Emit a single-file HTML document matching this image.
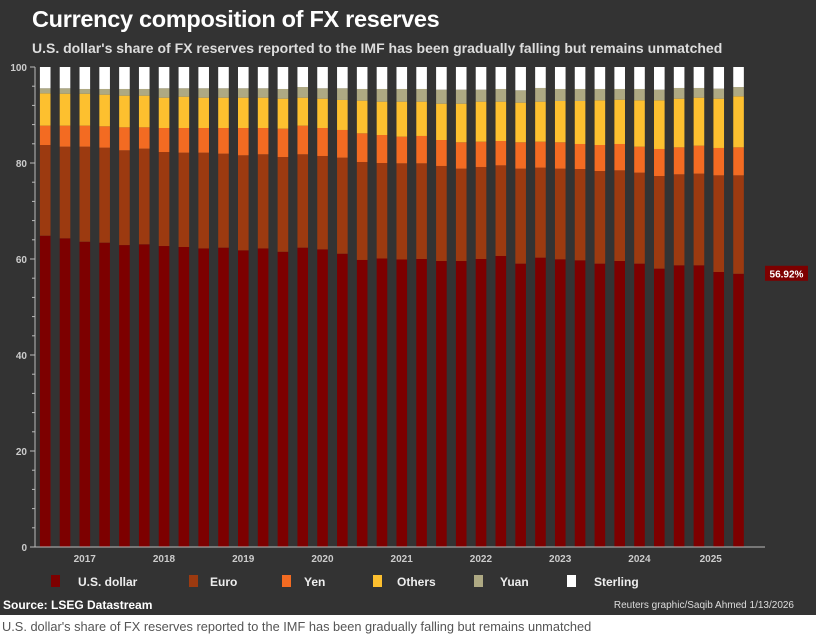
<!DOCTYPE html>
<html><head><meta charset="utf-8"><style>
body{margin:0;width:816px;height:641px;overflow:hidden;background:#fff;font-family:"Liberation Sans",sans-serif}
#card{position:absolute;left:0;top:0;width:816px;height:615px;background:#333}
#title{position:absolute;left:32px;top:6px;color:#fff;font-size:23.5px;font-weight:bold;letter-spacing:-0.3px}
#sub{position:absolute;left:32px;top:40px;color:#ddd;font-size:14px;font-weight:bold}
#caption{position:absolute;left:2px;top:619px;color:#555;font-size:12.8px}
svg{position:absolute;left:0;top:0}
</style></head><body>
<div id="card"></div>
<div id="title">Currency composition of FX reserves</div>
<div id="sub">U.S. dollar's share of FX reserves reported to the IMF has been gradually falling but remains unmatched</div>
<svg id="chart" width="816" height="615"></svg>
<div id="caption">U.S. dollar's share of FX reserves reported to the IMF has been gradually falling but remains unmatched</div>
<script>
const years=["2017","2018","2019","2020","2021","2022","2023","2024","2025"];
const yTicks=[0,20,40,60,80,100];
const seriesNames=["U.S. dollar","Euro","Yen","Others","Yuan","Sterling"];
const usd=[64.85,64.3,63.6,63.4,62.9,63.06,62.7,62.5,62.2,62.36,61.8,62.2,61.5,62.36,62.0,61.1,59.8,60.1,59.9,60.0,59.58,59.58,60.0,60.63,59.03,60.28,59.93,59.72,59.03,59.58,59.03,57.99,58.68,58.68,57.29,56.92];
const euro=[18.9,19.1,19.8,19.79,19.74,19.93,19.59,19.65,19.95,19.58,19.8,19.61,19.75,19.45,19.46,20.01,20.41,19.9,20.03,19.93,19.8,19.24,19.17,18.88,19.79,18.75,18.89,19.03,19.3,18.89,18.96,19.3,18.96,19.1,20.14,20.51];
const yen=[4.03,4.38,4.38,4.45,4.79,4.44,5.0,5.14,5.14,5.35,5.69,5.48,5.9,5.97,5.83,5.77,5.97,5.83,5.56,5.7,5.41,5.49,5.27,5.07,5.49,5.41,5.49,5.21,5.42,5.49,5.41,5.63,5.62,5.83,5.7,5.83];
const others=[6.73,6.66,6.66,6.6,6.6,6.6,6.32,6.53,6.32,6.32,6.32,6.32,6.25,5.83,6.11,6.25,6.81,6.95,7.29,7.15,7.57,8.05,8.34,8.2,8.26,8.34,8.61,8.96,9.31,9.23,9.66,10.14,10.14,10.0,10.27,10.63];
const yuan=[1.05,1.12,0.98,1.18,1.39,1.39,1.95,1.74,1.95,1.95,1.95,1.95,2.02,2.22,2.16,2.43,2.43,2.64,2.64,2.64,2.92,2.92,2.5,2.64,2.57,2.85,2.5,2.5,2.36,2.23,2.36,2.22,2.23,2.02,2.09,1.94];
const sterling=[4.44,4.44,4.58,4.58,4.58,4.58,4.44,4.44,4.44,4.44,4.44,4.44,4.58,4.17,4.44,4.44,4.58,4.58,4.58,4.58,4.72,4.72,4.72,4.58,4.86,4.37,4.58,4.58,4.58,4.58,4.58,4.72,4.37,4.37,4.51,4.17];
const lastLabel="56.92%";

const series=[usd,euro,yen,others,yuan,sterling];
const colors=["#7d0000","#9c3a10","#f36b22","#fdc02f","#aea983","#ffffff"];
const keys=["usd","euro","yen","others","yuan","sterling"];
const svg=document.getElementById('chart');
const NS="http://www.w3.org/2000/svg";
const y0=547,yTop=67,x0=35,step=19.81,bw=10.6,firstC=45.2;
const y=v=>y0-(v/100)*(y0-yTop);
const xc=i=>firstC+i*step;
function mk(t,a){const e=document.createElementNS(NS,t);for(const k in a)e.setAttribute(k,a[k]);svg.appendChild(e);return e;}
const n=usd.length;
for(let i=0;i<n;i++){
  let cum=0;
  for(let s=0;s<series.length;s++){
    const v=series[s][i];
    const r=mk('rect',{x:xc(i)-bw/2,y:y(cum+v),width:bw,height:y(cum)-y(cum+v),fill:colors[s]});
    
    
    cum+=v;
  }
}
let ax=mk('line',{x1:x0,y1:y(100),x2:x0,y2:y0,stroke:'#bbb','stroke-width':1});


for(let v=0;v<=100;v+=4){
  const big=v%20===0;
  const t=mk('line',{x1:x0-(big?5:3),y1:y(v),x2:x0,y2:y(v),stroke:'#bbb','stroke-width':1});
  
  
}
yTicks.forEach(v=>{
  const t=mk('text',{x:x0-8,y:y(v)+4,'text-anchor':'end',fill:'#ccc','font-size':10,'font-weight':'bold'});
  t.textContent=v;
  
  
});
let xa=mk('line',{x1:30,y1:y0,x2:765,y2:y0,stroke:'#bbb','stroke-width':1});


years.forEach((yr,k)=>{
  const i0=1+k*4, i1=Math.min(i0+3,n-1);
  const cx=(xc(i0)+xc(i1))/2-10+ (k===8?2:0);
  const t=mk('text',{x:cx,y:562,'text-anchor':'middle',fill:'#ccc','font-size':10,'font-weight':'bold'});
  t.textContent=yr;
  
  
});
const ly=y(usd[n-1]);
const lb=mk('rect',{x:765,y:ly-8,width:43,height:15,fill:'#7d0000'});


const lt=mk('text',{x:786.5,y:ly+3.5,'text-anchor':'middle',fill:'#fff','font-size':10,'font-weight':'bold'});
lt.textContent=lastLabel;


const lx=[51,189,282,373,474,567],tx=[78,210,304,397,500,594];
seriesNames.forEach((nm,s)=>{
  const r=mk('rect',{x:lx[s],y:575,width:9,height:12,fill:colors[s]});
  
  
  const t=mk('text',{x:tx[s],y:586,fill:'#eee','font-size':12,'font-weight':'bold'});
  t.textContent=nm;
  
  
});
const src=mk('text',{x:3,y:609,fill:'#fff','font-size':12,'font-weight':'bold'});
src.textContent="Source: LSEG Datastream";


const cr=mk('text',{x:794,y:608,'text-anchor':'end',fill:'#ddd','font-size':10});
cr.textContent="Reuters graphic/Saqib Ahmed 1/13/2026";


</script>
</body></html>
